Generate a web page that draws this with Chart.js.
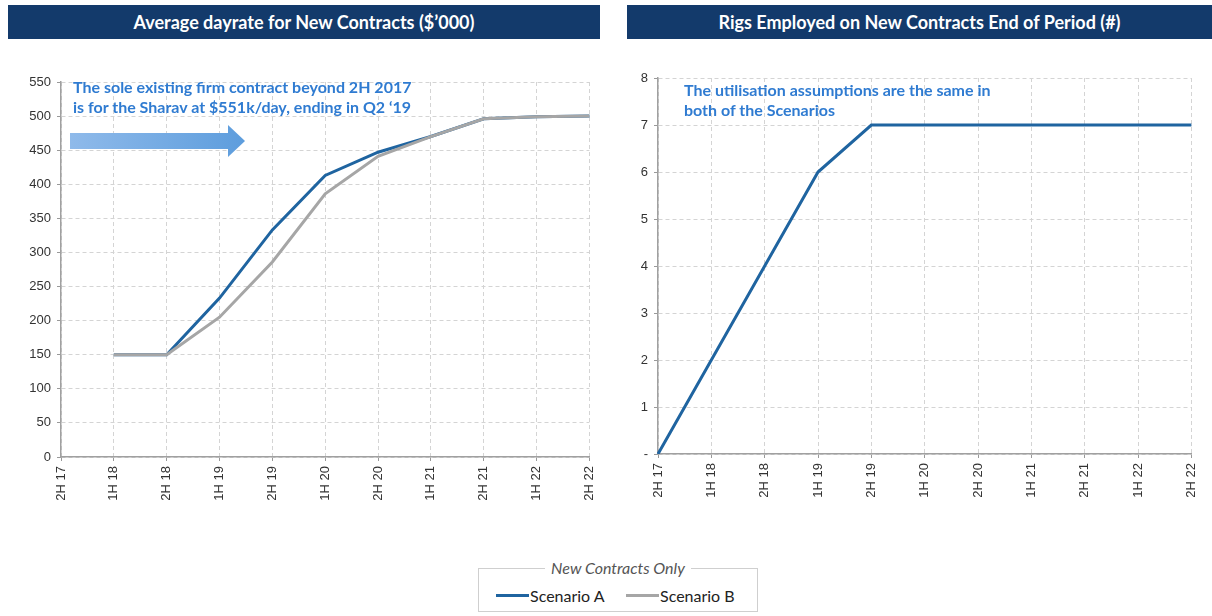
<!DOCTYPE html>
<html><head><meta charset="utf-8">
<script src="https://cdn.jsdelivr.net/npm/chart.js@4.4.0/dist/chart.umd.min.js"></script>
<style>
html,body{margin:0;padding:0;background:#fff;width:1212px;height:616px;overflow:hidden;font-family:"Liberation Sans",Arial,sans-serif;}
.title{position:absolute;top:5px;height:34px;background:#133a6b;color:#fff;font-family:Lato,"Open Sans",sans-serif;font-weight:bold;font-size:18px;display:flex;align-items:center;justify-content:center;}
.note{position:absolute;color:#2f7bd1;font-family:Lato,"Open Sans",sans-serif;font-weight:bold;font-size:16px;line-height:20px;}
#c1w{position:absolute;left:0;top:0;width:610px;height:520px;}
#c2w{position:absolute;left:610px;top:0;width:602px;height:520px;}
.legend{position:absolute;left:478px;top:568px;width:280px;height:44px;border:1px solid #cfcfcf;box-sizing:border-box;font-family:Lato,"Open Sans",sans-serif;}
.legend .lt{position:absolute;top:-11px;left:0;right:0;text-align:center;}
.legend .lt span{background:#fff;padding:0 6px;font-style:italic;color:#555;font-size:16px;}
.legend .it{position:absolute;top:17px;font-size:16px;color:#222;display:flex;align-items:center;}
.legend .sw{display:inline-block;width:33px;height:3px;margin-right:1px;}
</style></head>
<body>
<div id="c1w"><canvas id="c1"></canvas></div>
<div id="c2w"><canvas id="c2"></canvas></div>
<div class="title" style="left:8px;width:592px;">Average dayrate for New Contracts ($’000)</div>
<div class="title" style="left:627px;width:585px;">Rigs Employed on New Contracts End of Period (#)</div>
<div class="note" style="left:73px;top:77px;">The sole existing firm contract beyond 2H 2017<br>is for the Sharav at $551k/day, ending in Q2 ‘19</div>
<svg style="position:absolute;left:0;top:0" width="300" height="200">
<defs><linearGradient id="ag" x1="0" y1="0" x2="1" y2="0"><stop offset="0" stop-color="#8fbaea"/><stop offset="1" stop-color="#5d9ddd"/></linearGradient></defs>
<polygon points="70,133 228,133 228,125 245,141 228,157 228,149 70,149" fill="url(#ag)"/>
</svg>
<div class="note" style="left:684px;top:80px;">The utilisation assumptions are the same in<br>both of the Scenarios</div>
<div class="legend">
<div class="lt"><span>New Contracts Only</span></div>
<div class="it" style="left:17px;"><span class="sw" style="background:#1f64a0"></span>Scenario A</div>
<div class="it" style="left:147px;"><span class="sw" style="background:#a6a6a6"></span>Scenario B</div>
</div>
<script>
const periods = ["2H 17","1H 18","2H 18","1H 19","2H 19","1H 20","2H 20","1H 21","2H 21","1H 22","2H 22"];
const dayrateA = [null,150,150,233,333,413,447,470,496,499,500];
const dayrateB = [null,150,150,205,286,386,441,470,496,499,500];
const rigs = [0,2,4,6,7,7,7,7,7,7,7];
const colorA = "#1f64a0";
const colorB = "#a6a6a6";

Chart.defaults.font.family = '"Liberation Sans", Arial, sans-serif';
Chart.defaults.font.size = 13;
Chart.defaults.color = "#333";
Chart.defaults.animation = false;

function scalesCfg(yMax, yStep, yW, yFmt){
  return {
    x:{
      offset:false,
      ticks:{maxRotation:90,minRotation:90,autoSkip:false,padding:5,color:"#333",font:{size:13}},
      grid:{color:"#d4d4d4",tickLength:4,tickColor:"#999",drawTicks:true},
      border:{color:"#a0a0a0",width:1.5,dash:[4,3]},
      afterFit:s=>{s.height=50;}
    },
    y:{
      min:0,max:yMax,
      ticks:{stepSize:yStep,padding:6,color:"#333",font:{size:13},callback:yFmt},
      grid:{color:"#d4d4d4",tickLength:4,tickColor:"#999"},
      border:{color:"#a0a0a0",width:1.5,dash:[4,3]},
      afterFit:s=>{s.width=yW;}
    }
  };
}

new Chart(document.getElementById("c1"),{
  type:"line",
  data:{labels:periods,datasets:[
    {label:"Scenario A",data:dayrateA,borderColor:colorA,borderWidth:3,pointRadius:0,tension:0,order:2},
    {label:"Scenario B",data:dayrateB,borderColor:colorB,borderWidth:3,pointRadius:0,tension:0,order:1}
  ]},
  options:{responsive:true,maintainAspectRatio:false,
    layout:{padding:{top:82,right:16,bottom:13,left:0}},
    plugins:{legend:{display:false},tooltip:{enabled:false}},
    scales:scalesCfg(550,50,61,v=>v)
  }
});

new Chart(document.getElementById("c2"),{
  type:"line",
  data:{labels:periods,datasets:[
    {label:"Scenario A",data:rigs,borderColor:colorA,borderWidth:3,pointRadius:0,tension:0}
  ]},
  options:{responsive:true,maintainAspectRatio:false,
    layout:{padding:{top:78,right:12,bottom:16,left:0}},
    plugins:{legend:{display:false},tooltip:{enabled:false}},
    scales:scalesCfg(8,1,48,v=>v===0?"-":v)
  }
});
</script>
</body></html>
